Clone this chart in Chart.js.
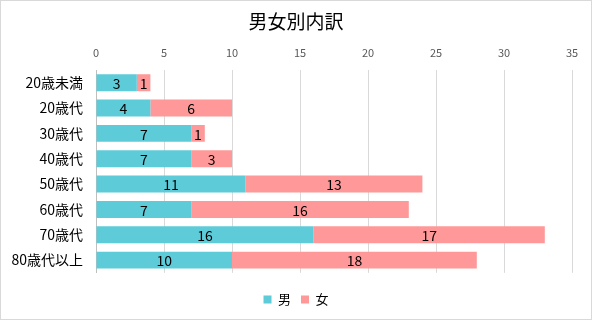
<!DOCTYPE html>
<html>
<head>
<meta charset="utf-8">
<script src="https://cdn.jsdelivr.net/npm/chart.js@4.4.0/dist/chart.umd.min.js"></script>
<style>
html,body{margin:0;padding:0;background:#fff;}
#wrap{width:592px;height:320px;position:relative;}
</style>
</head>
<body>
<div id="wrap"><canvas id="c" width="592" height="320"></canvas></div>
<script>
const categories = ['20歳未満','20歳代','30歳代','40歳代','50歳代','60歳代','70歳代','80歳代以上'];
const male = [3,4,7,7,11,7,16,10];
const female = [1,6,1,3,13,16,17,18];
const seriesNames = ['男','女'];
const xTicks = [0,5,10,15,20,25,30,35];
const titleText = '男女別内訳';

const FONT = '"Noto Sans CJK JP", "Noto Sans", sans-serif';

const borderPlugin = {
  id: 'outerBorder',
  beforeDraw(chart){
    const ctx = chart.ctx;
    ctx.save();
    ctx.fillStyle = '#fff';
    ctx.fillRect(0,0,chart.width,chart.height);
    ctx.restore();
  },
  afterDraw(chart){
    const ctx = chart.ctx;
    ctx.save();
    ctx.strokeStyle = '#d9d9d9';
    ctx.lineWidth = 1;
    ctx.strokeRect(0.5,0.5,chart.width-1,chart.height-1);
    ctx.restore();
  }
};

const labelPlugin = {
  id: 'barLabels',
  afterDatasetsDraw(chart){
    const ctx = chart.ctx;
    ctx.save();
    ctx.font = '14px ' + FONT;
    ctx.fillStyle = '#000';
    ctx.textAlign = 'center';
    ctx.textBaseline = 'middle';
    chart.data.datasets.forEach((ds, i) => {
      const meta = chart.getDatasetMeta(i);
      meta.data.forEach((el, j) => {
        const p = el.getProps(['x','y','base'], true);
        const cx = (p.x + p.base)/2;
        ctx.fillText(String(ds.data[j]), cx, p.y + 1);
      });
    });
    ctx.restore();
  }
};

new Chart(document.getElementById('c'), {
  type: 'bar',
  data: {
    labels: categories,
    datasets: [
      {label: seriesNames[0], data: male, backgroundColor: '#5ecbd8', categoryPercentage: 1, barPercentage: 0.67},
      {label: seriesNames[1], data: female, backgroundColor: '#ff9999', categoryPercentage: 1, barPercentage: 0.67}
    ]
  },
  options: {
    indexAxis: 'y',
    responsive: false,
    animation: false,
    devicePixelRatio: 1,
    layout: {padding: {left: 0, right: 0, top: 0, bottom: 4}},
    plugins: {
      title: {display: true, text: titleText, color: '#000', font: {family: FONT, size: 19, weight: 'normal'}, padding: {top: 10, bottom: 2}},
      legend: {
        position: 'bottom',
        title: {display: true, text: ' ', font: {size: 1}, padding: {top: 9, bottom: 0}},
        labels: {boxWidth: 8, boxHeight: 8, color: '#000', font: {family: FONT, size: 13}, padding: 10}
      },
      tooltip: {enabled: false}
    },
    scales: {
      x: {
        position: 'top', stacked: true, min: 0, max: 35,
        afterBuildTicks(axis){ axis.ticks = xTicks.map(v => ({value: v})); },
        ticks: {color: '#595959', font: {family: FONT, size: 11}, padding: 11},
        grid: {color: '#d9d9d9', drawTicks: false},
        border: {display: false}
      },
      y: {
        stacked: true,
        afterFit(axis){ axis.width = 96; },
        ticks: {color: '#000', font: {family: FONT, size: 14}, padding: 13},
        grid: {display: false, drawTicks: false},
        border: {display: true, color: '#bfbfbf'}
      },
      yRight: {
        type: 'category', position: 'right', display: true,
        afterFit(axis){ axis.width = 20; },
        ticks: {display: false},
        grid: {display: false, drawTicks: false},
        border: {display: false}
      }
    }
  },
  plugins: [borderPlugin, labelPlugin]
});
</script>
</body>
</html>
